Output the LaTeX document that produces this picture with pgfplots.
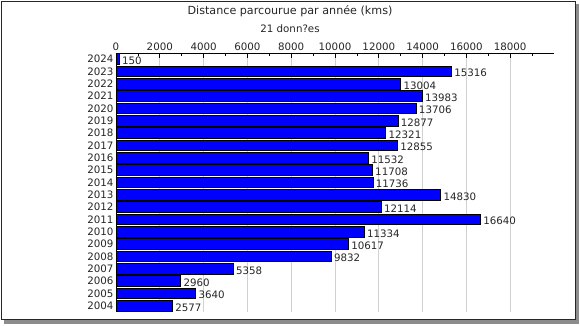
\documentclass[border=0pt]{standalone}
\usepackage{fontspec}
\setmainfont{DejaVu Sans}
\usepackage{pgfplots}
\usepackage{pgfplotstable}
\pgfplotsset{compat=1.18}
\definecolor{barblue}{RGB}{0,0,255}
\pgfplotstableread{
idx val
20 150
19 15316
18 13004
17 13983
16 13706
15 12877
14 12321
13 12855
12 11532
11 11708
10 11736
9 14830
8 12114
7 16640
6 11334
5 10617
4 9832
3 5358
2 2960
1 3640
0 2577
}\distdata
\begin{document}
\fontsize{10.3}{12}\selectfont
\begin{tikzpicture}[x=1bp,y=1bp]
\useasboundingbox (0,0) rectangle (580,325);
\fill[black!45] (4,1) rectangle (579,321);
\fill[white, draw=black!85, line width=1bp] (1.5,5.5) rectangle (575,323.5);
\node[font=\fontsize{11.2}{13}\selectfont, text=black!85] at (290,313.5) {Distance parcourue par année (kms)};
\node[font=\fontsize{10.3}{12}\selectfont, text=black!85] at (290,296) {21 donn?es};
\begin{axis}[
  at={(116bp,13bp)}, anchor=south west,
  scale only axis, width=438bp, height=259bp,
  xbar, bar width=10.6bp,
  xmin=0, xmax=20000, ymin=-0.5, ymax=20.5,
  axis x line*=top, axis y line*=left,
  axis line style={-, black, line width=0.9bp},
  xtick={0,2000,...,18000},
  minor xtick={1000,3000,...,19000},
  tick align=inside,
  major tick length=5bp, minor tick length=3bp,
  xtick style={black, line width=0.8bp},
  xmajorgrids, major grid style={black!18, line width=0.8bp},
  scaled x ticks=false,
  /pgf/number format/1000 sep={},
  /pgf/number format/assume math mode=true,
  ytick={0,...,20},
  yticklabels={2004,2005,2006,2007,2008,2009,2010,2011,2012,2013,2014,2015,2016,2017,2018,2019,2020,2021,2022,2023,2024},
  ytick style={draw=none},
  ticklabel style={font=\fontsize{10.3}{12}\selectfont, text=black!85},
  yticklabel style={xshift=1bp},
  xticklabel style={yshift=-1bp},
  nodes near coords,
  point meta=x,
  nodes near coords style={font=\fontsize{10.3}{12}\selectfont, anchor=west, xshift=-1bp, yshift=-1.5bp, text=black!85, /pgf/number format/1000 sep={}},
]
\addplot[fill=barblue, draw=black, line width=0.8bp] table[x=val, y=idx] {\distdata};
\end{axis}
\end{tikzpicture}
\end{document}
